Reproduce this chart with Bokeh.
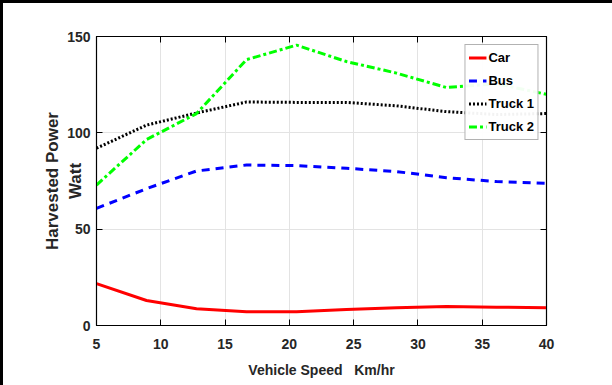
from bokeh.plotting import figure
from bokeh.models import LinearAxis, CustomJSTickFormatter, Legend, LegendItem, FixedTicker
from bokeh.embed import file_html
from bokeh.resources import INLINE

speed = [5.0, 8.89, 12.78, 16.67, 20.56, 24.44, 28.33, 32.22, 36.11, 40.0]
car = [21.7, 13.0, 8.7, 7.1, 7.1, 8.3, 9.2, 9.9, 9.5, 9.2]
bus = [60.8, 71.0, 80.2, 83.3, 83.0, 81.6, 79.9, 76.7, 74.7, 73.8]
truck1 = [92.0, 104.0, 110.3, 116.0, 115.8, 115.8, 114.0, 111.0, 109.5, 110.0]
truck2 = [72.9, 96.5, 110.0, 138.0, 145.5, 137.0, 131.0, 123.5, 125.5, 120.0]
x_ticks = [5, 10, 15, 20, 25, 30, 35, 40]
y_ticks = [0, 50, 100, 150]

FONT = "Liberation Sans"

p = figure(width=612, height=385, x_range=(5, 40), y_range=(0, 150),
           output_backend="svg", toolbar_location=None,
           min_border_left=93, min_border_right=69, min_border_top=33, min_border_bottom=63)
p.styles = {"border-left": "3px solid black", "border-top": "3px solid black"}

p.outline_line_color = "black"
p.outline_line_width = 1.2
p.xgrid.grid_line_color = "#e3e3e3"
p.ygrid.grid_line_color = "#e3e3e3"
p.xgrid.ticker = FixedTicker(ticks=x_ticks)
p.ygrid.ticker = FixedTicker(ticks=y_ticks)

for ax, ticks in ((p.xaxis[0], x_ticks), (p.yaxis[0], y_ticks)):
    ax.ticker = FixedTicker(ticks=ticks)
    ax.major_tick_in = 6
    ax.major_tick_out = 0
    ax.minor_tick_in = 0
    ax.minor_tick_out = 0
    ax.axis_line_color = "black"
    ax.major_tick_line_color = "black"
    ax.major_label_text_font = FONT
    ax.major_label_text_font_style = "bold"
    ax.major_label_text_font_size = "14px"
    ax.major_label_text_color = "#262626"
    ax.axis_label_text_font = FONT
    ax.axis_label_text_font_style = "bold"
    ax.axis_label_text_color = "#262626"

p.xaxis.axis_label = "Vehicle Speed\u00a0\u00a0\u00a0Km/hr"
p.xaxis.axis_label_text_font_size = "14px"
p.xaxis.major_label_standoff = 13
p.xaxis.axis_label_standoff = 10

p.yaxis.axis_label = "Harvested Power\nWatt"
p.yaxis.axis_label_text_font_size = "17px"
p.yaxis.major_label_standoff = 6
p.yaxis.axis_label_standoff = -21

blank = CustomJSTickFormatter(code="return ''")
top = LinearAxis(ticker=FixedTicker(ticks=x_ticks), formatter=blank,
                 major_tick_in=6, major_tick_out=0, minor_tick_in=0, minor_tick_out=0)
right = LinearAxis(ticker=FixedTicker(ticks=y_ticks), formatter=blank,
                   major_tick_in=6, major_tick_out=0, minor_tick_in=0, minor_tick_out=0)
p.add_layout(top, "above")
p.add_layout(right, "right")

r_car = p.line(speed, car, line_color="#ff0000", line_width=3)
r_bus = p.line(speed, bus, line_color="#0000ff", line_width=3, line_dash="8 6")
r_t1 = p.line(speed, truck1, line_color="black", line_width=3, line_dash="2 2")
r_t2 = p.line(speed, truck2, line_color="#00ff00", line_width=3, line_dash="8 3 3 3")

legend = Legend(items=[LegendItem(label="Car", renderers=[r_car]),
                       LegendItem(label="Bus", renderers=[r_bus]),
                       LegendItem(label="Truck 1", renderers=[r_t1]),
                       LegendItem(label="Truck 2", renderers=[r_t2])],
                location="top_right")
legend.label_text_font = FONT
legend.label_text_font_style = "bold"
legend.label_text_font_size = "13px"
legend.label_text_color = "black"
legend.border_line_color = "#666666"
legend.border_line_width = 1.5
legend.glyph_width = 18
legend.label_standoff = 2
legend.spacing = 4
legend.padding = 3
legend.margin = 8
legend.label_height = 19
legend.glyph_height = 19
p.add_layout(legend)

open("out.html", "w").write(file_html(p, INLINE))
